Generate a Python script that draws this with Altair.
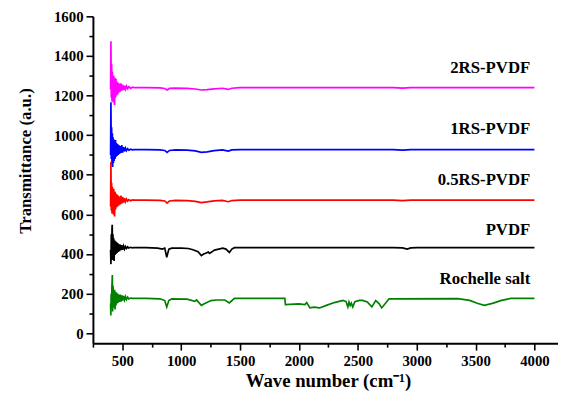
import altair as alt
import pandas as pd

series_names = ["2RS-PVDF", "1RS-PVDF", "0.5RS-PVDF", "PVDF", "Rochelle salt"]
series_colors = ["#FF00FF", "#0000FF", "#FF0000", "#000000", "#008000"]

wn_rs_pvdf = [400, 403, 406, 409, 412, 415, 418, 421, 424, 427, 430, 434, 438, 442, 446, 450, 455, 460,
              465, 470, 476, 482, 488, 495, 502, 510, 518, 526, 535, 545, 555, 570, 585, 600,
              700, 820, 860, 880, 900, 950, 1050, 1120, 1170, 1220, 1280, 1350, 1400, 1430, 1500,
              2800, 2880, 2950, 4000]

t_2rs = [1230, 1474, 1190, 1360, 1170, 1320, 1200, 1290, 1165, 1300, 1180, 1152, 1290, 1190, 1285, 1200,
         1270, 1205, 1265, 1215, 1260, 1220, 1262, 1225, 1255, 1228, 1250, 1232, 1248, 1235, 1245, 1236,
         1242, 1240,
         1240, 1239, 1236, 1228, 1236, 1238, 1236, 1233, 1228, 1230, 1234, 1237, 1231, 1237, 1240,
         1240, 1238, 1240, 1240]

t_1rs = [900, 1166, 880, 1040, 850, 1010, 839, 990, 860, 980, 870, 970, 880, 975, 890, 960, 895, 955,
         900, 950, 905, 945, 910, 950, 912, 940, 918, 935, 922, 932, 924, 929, 926, 927,
         927, 926, 923, 913, 923, 926, 925, 921, 913, 916, 922, 926, 920, 926, 927,
         927, 925, 927, 927]

t_05rs = [640, 864, 620, 760, 605, 740, 610, 720, 600, 730, 615, 590, 715, 625, 705, 635, 700, 640,
          695, 645, 690, 650, 695, 655, 688, 660, 682, 664, 678, 667, 675, 669, 673, 672,
          672, 671, 668, 657, 668, 671, 670, 666, 660, 663, 668, 671, 664, 670, 672,
          672, 670, 672, 672]

wn_pvdf = [400, 403, 406, 409, 412, 414, 417, 420, 424, 427, 430, 434, 438, 442, 446, 450, 455, 460,
           465, 470, 476, 482, 488, 495, 502, 510, 518, 526, 535, 545, 555, 570, 585, 600,
           700, 800, 840, 860, 877, 895, 920, 1000, 1060, 1100, 1143, 1171, 1190, 1213, 1230, 1241,
           1283, 1353, 1380, 1409, 1430, 1451, 2800, 2880, 2918, 2950, 3000, 4000]
t_pvdf = [420, 349, 500, 380, 530, 548, 370, 500, 390, 480, 365, 470, 395, 465, 400, 460, 405, 455,
          410, 450, 415, 448, 420, 445, 422, 440, 425, 438, 428, 436, 430, 434, 431, 433,
          432, 430, 425, 430, 384, 425, 430, 430, 428, 422, 412, 392, 400, 405, 410, 403,
          420, 430, 425, 408, 425, 432, 432, 431, 425, 431, 432, 432]

wn_rochelle = [400, 402, 405, 408, 411, 415, 418, 421, 424, 427, 430, 434, 438, 442, 446, 450, 455, 460,
               465, 470, 476, 482, 488, 495, 502, 510, 518, 526, 535, 545, 555, 570, 585, 600,
               700, 820, 860, 877, 895, 920, 1050, 1115, 1130, 1171, 1200, 1253, 1300, 1370, 1409, 1451,
               1880, 1885, 2000, 2050, 2066, 2093, 2130, 2175, 2233, 2300, 2373, 2400, 2415, 2425, 2435,
               2445, 2457, 2475, 2511, 2540, 2580, 2619, 2652, 2680, 2703, 2740, 2765, 3349, 3450, 3520,
               3576, 3650, 3720, 3799, 4000]
t_rochelle = [150, 90, 200, 130, 230, 294, 110, 240, 130, 210, 140, 220, 120, 210, 140, 205, 150, 200,
              155, 195, 158, 195, 160, 192, 165, 188, 168, 185, 170, 182, 173, 178, 176, 176,
              176, 174, 165, 133, 165, 174, 172, 161, 168, 141, 150, 165, 168, 168, 153, 176,
              176, 145, 148, 145, 155, 128, 132, 128, 141, 155, 166, 160, 133, 158, 140,
              152, 133, 160, 166, 166, 158, 133, 165, 150, 128, 155, 174, 175, 166, 150,
              141, 152, 166, 176, 176]

x_tick_values = [250, 500, 750, 1000, 1250, 1500, 1750, 2000, 2250, 2500, 2750, 3000, 3250, 3500, 3750, 4000]
y_tick_values = [0, 100, 200, 300, 400, 500, 600, 700, 800, 900, 1000, 1100, 1200, 1300, 1400, 1500, 1600]

label_x = [3965, 3965, 3965, 3965, 3965]
label_y = [1340, 1030, 773, 520, 274]

frames = []
for name, wn, t in [("2RS-PVDF", wn_rs_pvdf, t_2rs), ("1RS-PVDF", wn_rs_pvdf, t_1rs),
                    ("0.5RS-PVDF", wn_rs_pvdf, t_05rs), ("PVDF", wn_pvdf, t_pvdf),
                    ("Rochelle salt", wn_rochelle, t_rochelle)]:
    d = pd.DataFrame({"wn": wn, "t": t})
    d["series"] = name
    frames.append(d)
df = pd.concat(frames, ignore_index=True)

labels_df = pd.DataFrame({"name": series_names, "x": label_x, "y": label_y})

FONT = "Liberation Serif"

x_scale = alt.Scale(domain=[250, 4200], nice=False, zero=False)
y_scale = alt.Scale(domain=[-50, 1600], nice=False, zero=False)

x_axis = alt.Axis(
    values=x_tick_values,
    labelExpr="(datum.value % 500 == 0) ? ('' + datum.value) : ''",
    labelOverlap=False,
    labelFlush=False,
    tickSize={"condition": {"test": "datum.value % 500 == 0", "value": 7}, "value": 4},
    title="Wave number (cm\u207B\u00B9)",
    titleX=238, titleY=44, titleAlign="center", titleBaseline="alphabetic",
    titleFontSize=19,
    labelPadding=4,
)
y_axis = alt.Axis(
    values=y_tick_values,
    labelExpr="(datum.value % 200 == 0) ? ('' + datum.value) : ''",
    labelOverlap=False,
    tickSize={"condition": {"test": "datum.value % 200 == 0", "value": 7}, "value": 4},
    title="Transmittance (a.u.)",
    titleAngle=270, titleX=-68, titleY=146, titleAlign="center", titleBaseline="middle",
    titleFontSize=17,
    labelPadding=3,
)

lines = alt.Chart(df).mark_line(strokeWidth=1.7).encode(
    x=alt.X("wn:Q", scale=x_scale, axis=x_axis),
    y=alt.Y("t:Q", scale=y_scale, axis=y_axis),
    color=alt.Color("series:N", scale=alt.Scale(domain=series_names, range=series_colors), legend=None),
    detail="series:N",
)

texts = alt.Chart(labels_df).mark_text(
    align="right", baseline="middle", font=FONT, fontWeight="bold", fontSize=17, color="black"
).encode(
    x=alt.X("x:Q", scale=x_scale, axis=x_axis),
    y=alt.Y("y:Q", scale=y_scale, axis=y_axis),
    text="name:N",
)

chart = alt.layer(lines, texts).properties(
    width=471, height=331,
    autosize=alt.AutoSizeParams(type="none"),
    padding={"left": 86, "top": 6, "right": 0, "bottom": 47},
).configure_view(stroke=None).configure_axis(
    grid=False,
    domainColor="black", domainWidth=2,
    tickColor="black", tickWidth=1.6,
    labelFont=FONT, labelFontWeight="bold", labelFontSize=15, labelColor="black",
    titleFont=FONT, titleFontWeight="bold", titleColor="black",
)

chart.save("out.html", embed_options={"renderer": "svg", "actions": False})
